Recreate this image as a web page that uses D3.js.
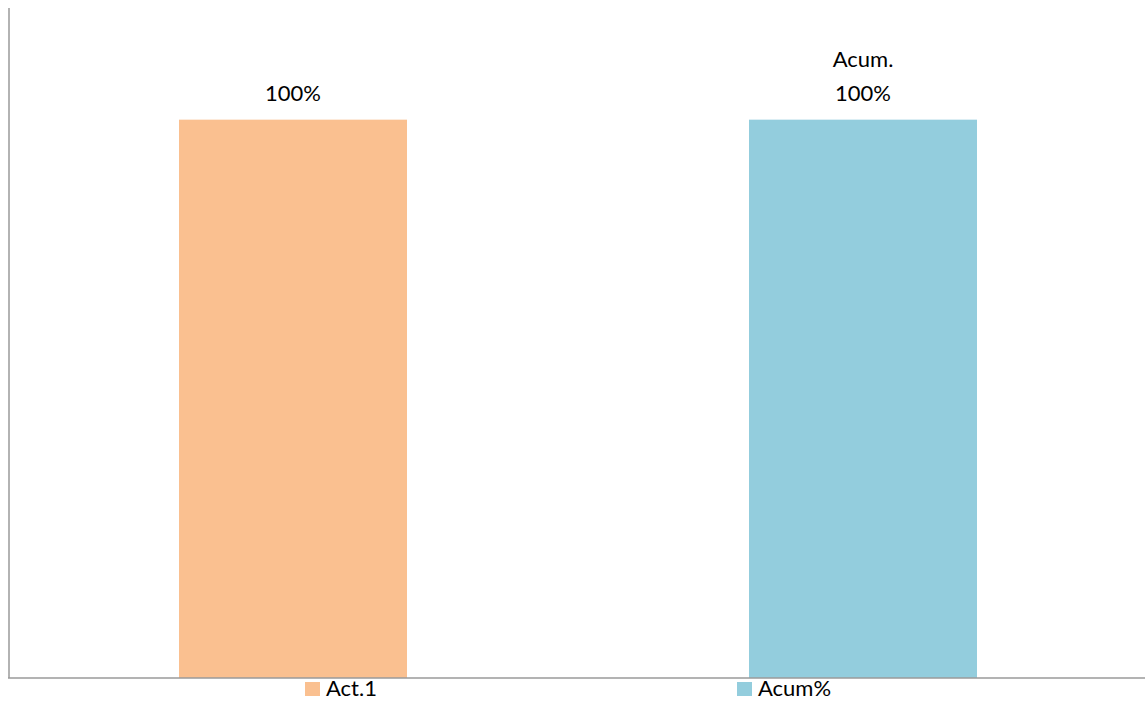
<!DOCTYPE html>
<html>
<head>
<meta charset="utf-8">
<script src="https://cdn.jsdelivr.net/npm/d3@7"></script>
<style>
  html, body { margin: 0; padding: 0; background: #fff; }
  svg { display: block; }
  text { font-family: Lato, "Open Sans", sans-serif; fill: #000; }
</style>
</head>
<body>
<svg id="chart" width="1145" height="702"></svg>
<script>
const categories = ["Act.1", "Acum%"];
const values = [1.0, 1.0];
const labelLines = [["100%"], ["Acum.", "100%"]];
const colors = ["#FAC090", "#93CDDD"];

const W = 1145, H = 702;
const margin = { left: 9, right: 0, top: 8, bottom: 24 };
const svg = d3.select("#chart");

const x = d3.scaleBand()
  .domain(categories)
  .range([margin.left - 1, W + 3])
  .paddingInner(0.6)
  .paddingOuter(0.3);

const y = d3.scaleLinear()
  .domain([0, 1.2])
  .range([H - margin.bottom, margin.top]);

// bars
svg.selectAll("rect.bar")
  .data(categories)
  .join("rect")
  .attr("class", "bar")
  .attr("x", d => x(d))
  .attr("width", x.bandwidth())
  .attr("y", (d, i) => y(values[i]))
  .attr("height", (d, i) => y(0) - y(values[i]))
  .attr("fill", (d, i) => colors[i]);

// axes lines
svg.append("line")
  .attr("x1", margin.left).attr("x2", margin.left)
  .attr("y1", margin.top).attr("y2", y(0))
  .attr("stroke", "#9a9a9a").attr("stroke-width", 1.5);
svg.append("line")
  .attr("x1", margin.left - 1).attr("x2", W)
  .attr("y1", y(0)).attr("y2", y(0))
  .attr("stroke", "#9a9a9a").attr("stroke-width", 1.5);

// data labels
categories.forEach((c, i) => {
  const lines = labelLines[i];
  const cx = x(c) + x.bandwidth() / 2;
  const baseY = y(values[i]) - 19;
  const t = svg.append("text")
    .attr("text-anchor", "middle")
    .style("font-size", "22px");
  lines.forEach((ln, j) => {
    t.append("tspan")
      .attr("x", cx)
      .attr("y", baseY - (lines.length - 1 - j) * 34)
      .text(ln);
  });
});

// legend
const legendX = [305, 737];
const lg = svg.selectAll("g.legend")
  .data(categories)
  .join("g")
  .attr("class", "legend")
  .attr("transform", (d, i) => `translate(${legendX[i]},${y(0)})`);
lg.append("rect")
  .attr("x", 0).attr("y", 4)
  .attr("width", 15).attr("height", 14)
  .attr("fill", (d, i) => colors[i]);
lg.append("text")
  .attr("x", 21).attr("y", 18)
  .style("font-size", "22px")
  .text(d => d);
</script>
</body>
</html>
